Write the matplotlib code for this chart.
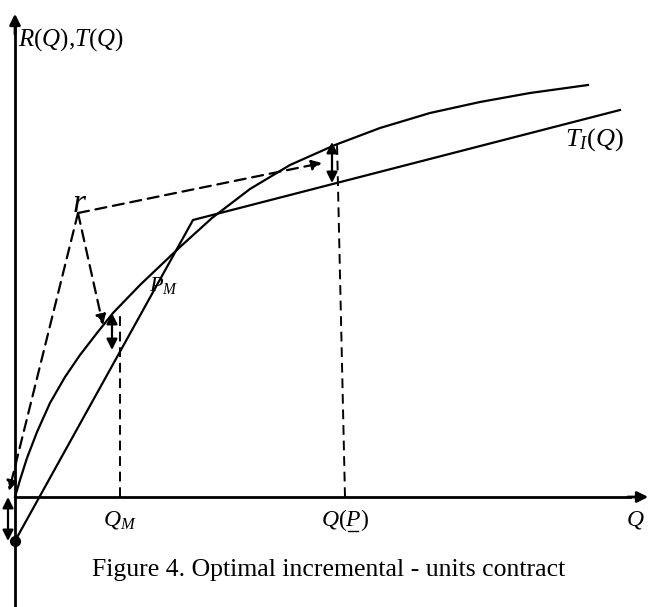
import numpy as np
import matplotlib.pyplot as plt

plt.rcParams['mathtext.fontset'] = 'custom'
plt.rcParams['mathtext.rm'] = 'Liberation Serif'
plt.rcParams['mathtext.it'] = 'Liberation Serif:italic'
plt.rcParams['font.family'] = 'Liberation Serif'

# revenue curve R(Q) (Q, value)
r_q = [0, 5, 12, 22, 35, 50, 65, 82, 98, 125, 165, 197, 235, 275, 320, 365, 415, 465, 515, 573]
r_v = [0, 17, 39, 65, 94, 120, 142, 164, 184, 212, 250, 279, 308, 332, 352, 369, 384, 395, 404, 412]

# incremental-units tariff T_I(Q): intercept, kink, end
t_q = [0, 178, 605]
t_v = [-44, 277, 387]

# the point r and where its dashed arrows go
r_pt = (63, 284)
r_targets = [(88, 172), (307, 334), (-6, 6)]

q_m = 105          # Q_M
q_p = (330, 322)   # Q(P) dashed line, bottom and top (slightly slanted)

fig = plt.figure(figsize=(6.51, 6.07), dpi=100)
ax = fig.add_axes([0, 0, 1, 1])
ax.set_xlim(-15, 636)
ax.set_ylim(-110, 497)
ax.axis('off')

# axes with arrows
ax.plot([0, 0], [-110, 470], color='black', lw=2)
ax.annotate('', xy=(0, 486), xytext=(0, 460),
            arrowprops=dict(arrowstyle='-|>', color='black', lw=2, mutation_scale=16))
ax.plot([0, 615], [0, 0], color='black', lw=2)
ax.annotate('', xy=(636, 0), xytext=(610, 0),
            arrowprops=dict(arrowstyle='-|>', color='black', lw=2, mutation_scale=16))

# curves
ax.plot(r_q, r_v, color='black', lw=1.6, solid_joinstyle='round')
ax.plot(t_q, t_v, color='black', lw=1.6)
ax.plot([t_q[0]], [t_v[0]], 'o', color='black', ms=7)

# dashed verticals
ax.plot([q_m, q_m], [0, 185], color='black', lw=1.4, ls=(0, (5, 3)))
ax.plot([q_p[0], q_p[1]], [0, 355], color='black', lw=1.4, ls=(0, (5, 3)))

# dashed arrows from r
for tq, tv in r_targets:
    ax.annotate('', xy=(tq, tv), xytext=r_pt,
                arrowprops=dict(arrowstyle='-|>', color='black', lw=1.6,
                                ls=(0, (5, 3)), mutation_scale=15, shrinkA=0, shrinkB=0))

# double arrows (gaps between R and T)
for x, top, bot in [(97, 184, 147), (317, 355, 314), (-7, 0, -44)]:
    ax.annotate('', xy=(x, bot), xytext=(x, top),
                arrowprops=dict(arrowstyle='<|-|>', color='black', lw=1.6,
                                mutation_scale=16, shrinkA=0, shrinkB=0))

# labels
ax.text(3, 457, r'$R(Q)$,$T(Q)$', fontsize=18, va='center', ha='left')
ax.text(65, 293, r'$r$', fontsize=24, va='center', ha='center')
ax.text(550, 357, r'$T_I(Q)$', fontsize=19, va='center', ha='left')
ax.text(134, 212, r'$P_M$', fontsize=16, va='center', ha='left')
ax.text(q_m, -23, r'$Q_M$', fontsize=17, va='center', ha='center')
ax.text(q_p[0], -23, r'$Q(P)$', fontsize=17, va='center', ha='center')
ax.plot([q_p[0] + 3, q_p[0] + 13], [-34, -34], color='black', lw=1)
ax.text(620, -23, r'$Q$', fontsize=17, va='center', ha='center')

ax.text(314, -73, 'Figure 4. Optimal incremental - units contract',
        fontsize=18.5, va='center', ha='center')

plt.savefig('out.png', dpi=100)
